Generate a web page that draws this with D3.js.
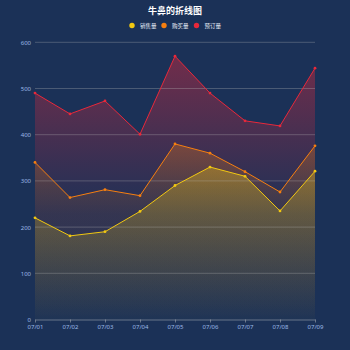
<!DOCTYPE html>
<html><head><meta charset="utf-8">
<script src="https://cdn.jsdelivr.net/npm/d3@7/dist/d3.min.js"></script>
<style>html,body{margin:0;padding:0;background:#1b3157;}svg{display:block;}</style>
</head><body><svg id="c" width="350" height="350"></svg>
<script>
const categories = ["07/01","07/02","07/03","07/04","07/05","07/06","07/07","07/08","07/09"];
const sales    = [220,181,190,234,290,330,310,235,321];
const purchase = [340,264,281,268,380,360,320,276,376];
const orders   = [490,445,473,401,570,490,430,419,544];
const seriesNames = ["销售量","购买量","预订量"];
const yTicks = [0,100,200,300,400,500,600];
const title = "牛鼻的折线图";

const colors = ["#f2c811","#f77f0f","#e8283a"];
const series = [sales, purchase, orders];
const gradStops = [
  [[0,0.34],[0.6,0.14],[1,0.02]],
  [[0,0.3],[0.4,0.06],[1,0]],
  [[0,0.42],[0.5,0.08],[1,0]]
];

const svg = d3.select("#c");
svg.append("rect").attr("width",350).attr("height",350).attr("fill","#1b3157");
const m = {l:35, r:315, t:42.3, b:319.5};
const x = d3.scalePoint().domain(categories).range([m.l, m.r]);
const y = d3.scaleLinear().domain([0,600]).range([m.b, m.t]);

const defs = svg.append("defs");
colors.forEach((c,i)=>{
  const g = defs.append("linearGradient").attr("id","g"+i).attr("x1",0).attr("y1",0).attr("x2",0).attr("y2",1);
  gradStops[i].forEach(s=>g.append("stop").attr("offset",s[0]).attr("stop-color",c).attr("stop-opacity",s[1]));
});

const area = d3.area().x((d,i)=>x(categories[i])).y0(y(0)).y1(d=>y(d));
const line = d3.line().x((d,i)=>x(categories[i])).y(d=>y(d));

[2,1,0].forEach(i=>{
  svg.append("path").datum(series[i]).attr("d",area).attr("fill",`url(#g${i})`);
});

// grid
svg.append("g").selectAll("line").data(yTicks.filter(d=>d>0)).join("line")
  .attr("x1",m.l).attr("x2",m.r).attr("y1",d=>y(d)).attr("y2",d=>y(d))
  .attr("stroke","rgba(190,190,190,0.3)").attr("stroke-width",1);

series.forEach((s,i)=>{
  svg.append("path").datum(s).attr("d",line).attr("fill","none").attr("stroke",colors[i]).attr("stroke-width",1);
  svg.append("g").selectAll("circle").data(s).join("circle")
    .attr("cx",(d,j)=>x(categories[j])).attr("cy",d=>y(d)).attr("r",1.4)
    .attr("fill",colors[i]);
});

// axes
const xAxis = d3.axisBottom(x).tickSize(3).tickSizeOuter(0);
const gx = svg.append("g").attr("transform",`translate(0,${m.b})`).call(xAxis);
gx.select(".domain").attr("stroke","rgba(200,200,200,0.45)");
gx.selectAll(".tick line").attr("stroke","rgba(200,200,200,0.45)");
gx.selectAll("text").attr("fill","#9bb8e6").attr("font-size",6).attr("font-family","Noto Sans, sans-serif").attr("dy","0.5em");

const yAxis = d3.axisLeft(y).tickValues(yTicks).tickSize(0).tickPadding(4);
const gy = svg.append("g").attr("transform",`translate(${m.l},0)`).call(yAxis);
gy.select(".domain").remove();
gy.selectAll("text").attr("fill","#9bb8e6").attr("font-size",6).attr("font-family","Noto Sans, sans-serif");

// title
svg.append("text").attr("x",175).attr("y",14).attr("text-anchor","middle")
  .attr("fill","#fff").attr("font-weight","bold").attr("font-size",9)
  .attr("font-family","Noto Sans CJK SC, sans-serif").text(title);

// legend
const lx = [132,164,196.5];
const lg = svg.append("g");
seriesNames.forEach((n,i)=>{
  lg.append("circle").attr("cx",lx[i]).attr("cy",25.5).attr("r",2.7).attr("fill",colors[i]);
  lg.append("text").attr("x",lx[i]+8).attr("y",27.5).attr("fill","#e8eef8").attr("font-size",5.5)
    .attr("font-family","Noto Sans CJK SC, sans-serif").text(n);
});
</script></body></html>
